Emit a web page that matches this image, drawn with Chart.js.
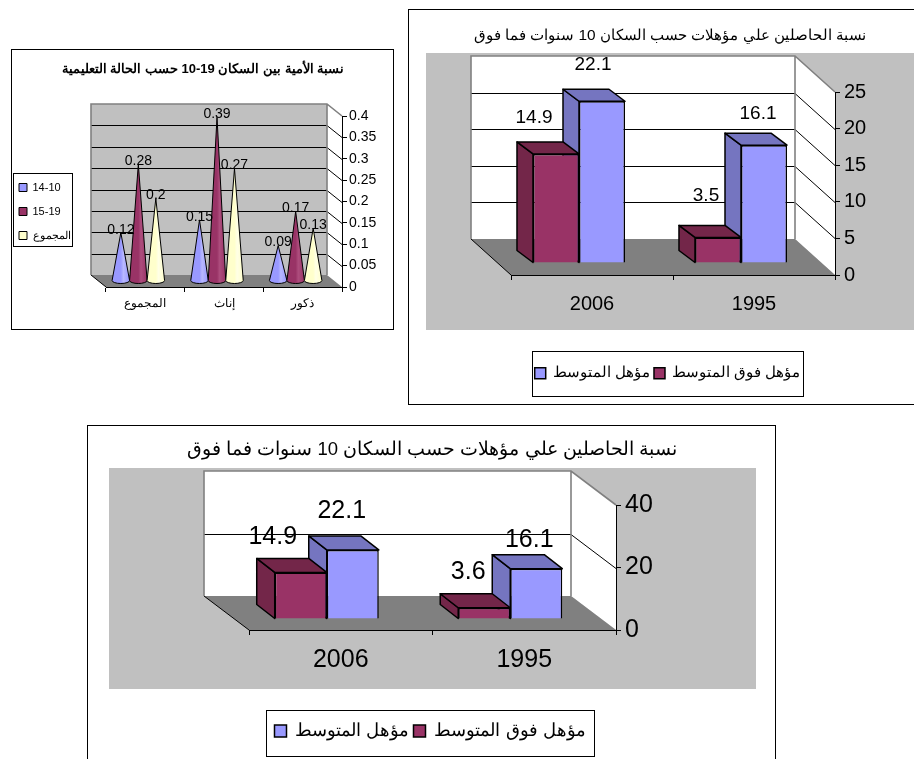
<!DOCTYPE html>
<html lang="ar"><head><meta charset="utf-8">
<style>html,body{margin:0;padding:0;background:#fff;width:914px;height:759px;overflow:hidden}
canvas{position:absolute;left:0;top:0}</style>
<script src="https://cdn.jsdelivr.net/npm/chart.js@4"></script></head>
<body>
<canvas id="c1" width="914" height="759"></canvas>
<canvas id="c2" width="914" height="759"></canvas>
<canvas id="c3" width="914" height="759"></canvas>
<script>
// ---- data ----
const illiteracyTitle = 'نسبة الأمية بين السكان 19-10 حسب الحالة التعليمية';
const illiteracyCategories = ['المجموع', 'إناث', 'ذكور'];
const illiteracySeriesNames = ['14-10', '15-19', 'المجموع'];
const illiteracy1410 = [0.12, 0.15, 0.09];
const illiteracy1519 = [0.28, 0.39, 0.17];
const illiteracyTotal = [0.2, 0.27, 0.13];

const qualTitle = 'نسبة الحاصلين علي مؤهلات حسب السكان 10 سنوات فما فوق';
const qualCategories = ['2006', '1995'];
const qualSeriesNames = ['مؤهل فوق المتوسط', 'مؤهل المتوسط'];
const qualAboveA = [14.9, 3.5];
const qualIntermediateA = [22.1, 16.1];
const qualAboveB = [14.9, 3.6];
const qualIntermediateB = [22.1, 16.1];

const BLUE = '#9999ff', PURPLE = '#993366', CREAM = '#ffffcc';
const BLUE_SIDE = '#7575c0', PURPLE_SIDE = '#732649';
Chart.defaults.font.family = '"Liberation Sans", Arial, sans-serif';
Chart.defaults.color = '#000';
Chart.defaults.animation = false;

function scene(g) {
  return {
    id: 'scene3d',
    beforeLayout(chart) {
      const l = chart.legend;
      if (l && !l.$pinned) {
        const fit = l.fit;
        l.fit = function () { fit.call(this); this.width = 0; this.height = 0; };
        l.$pinned = true;
      }
    },
    afterLayout(chart) {
      const l = chart.legend, b = g.legendBox;
      l.left = b.x + (g.legendDx || 0); l.right = b.x + b.w + (g.legendRight || 0); l.top = b.y + (g.legendDy || 0); l.bottom = b.y + b.h + (g.legendBottom || 0); l.width = l.right - l.left; l.height = l.bottom - l.top;
      const t = chart.titleBlock;
      t.left = g.titleX - 400; t.right = g.titleX + 400; t.width = 800;
    },
    beforeDraw(chart) {
      const c = chart.ctx, f = g.frame, a = chart.chartArea, d = g.depth, y = chart.scales.y;
      c.save();
      c.fillStyle = '#fff'; c.fillRect(f.x, f.y, f.w, f.h);
      c.strokeStyle = '#000'; c.lineWidth = 1; c.strokeRect(f.x + .5, f.y + .5, f.w, f.h);
      if (g.panel) { c.fillStyle = '#c0c0c0'; c.fillRect(g.panel.x, g.panel.y, g.panel.w, g.panel.h); }
      const L = a.left, R = a.right, T = a.top, B = a.bottom, dx = d.dx, dy = d.dy;
      // side wall
      c.fillStyle = '#fff';
      c.beginPath(); c.moveTo(R + dx, T + dy); c.lineTo(R, T); c.lineTo(R, B); c.lineTo(R + dx, B + dy); c.closePath(); c.fill();
      // back wall
      c.fillStyle = g.wall;
      c.fillRect(L + dx, T + dy, R - L, B - T);
      // floor
      c.fillStyle = '#808080';
      c.beginPath(); c.moveTo(L + dx, B + dy); c.lineTo(R + dx, B + dy); c.lineTo(R, B); c.lineTo(L, B); c.closePath(); c.fill();
      // grid lines from the value scale
      c.strokeStyle = '#000'; c.lineWidth = 1;
      y.ticks.forEach(t => {
        const py = Math.round(y.getPixelForValue(t.value));
        if (t.value === y.min || t.value === y.max) return;
        c.beginPath(); c.moveTo(L + dx, py + dy + .5); c.lineTo(R + dx, py + dy + .5); c.lineTo(R, py + .5); c.stroke();
      });
      c.beginPath(); c.moveTo(L + dx, B + dy); c.lineTo(L, B); c.stroke();
      // wall outline
      c.strokeStyle = '#808080'; c.lineWidth = 1.6;
      c.beginPath(); c.moveTo(L + dx, B + dy); c.lineTo(L + dx, T + dy); c.lineTo(R + dx, T + dy); c.lineTo(R, T); c.moveTo(R + dx, T + dy); c.lineTo(R + dx, B + dy); c.stroke();
      // legend frame
      const b = g.legendBox;
      c.fillStyle = '#fff'; c.fillRect(b.x, b.y, b.w, b.h);
      c.strokeStyle = '#000'; c.lineWidth = 1; c.strokeRect(b.x + .5, b.y + .5, b.w, b.h);
      c.restore();
    },
    beforeDatasetsDraw(chart) {
      const c = chart.ctx;
      c.save();
      c.translate(g.bar.dx, g.bar.dy);
      const order = chart.data.datasets.map((_, i) => i);
      if (!g.cone) order.reverse();
      order.forEach(i => {
        const ds = chart.data.datasets[i];
        chart.getDatasetMeta(i).data.forEach(el => g.cone ? drawCone(c, el, ds) : drawBox(c, el, ds, g));
      });
      c.fillStyle = '#000'; c.textAlign = 'center'; c.textBaseline = 'middle';
      c.font = g.labelFont + 'px "Liberation Sans", Arial, sans-serif';
      chart.data.datasets.forEach((ds, i) => {
        chart.getDatasetMeta(i).data.forEach((el, j) => {
          const o = g.labelOffset[i][j];
          c.fillText(String(ds.data[j]), el.x + o[0], el.y + o[1]);
        });
      });
      c.restore();
      return false;
    }
  };
}
function drawBox(c, el, ds, g) {
  const l = el.x - el.width / 2, r = el.x + el.width / 2, t = el.y, b = el.base, dx = g.bar.bx, dy = g.bar.by;
  c.save();
  c.fillStyle = ds.sideColor; c.strokeStyle = '#000'; c.lineWidth = 1.5; c.lineJoin = 'round';
  c.beginPath(); c.moveTo(l, t); c.lineTo(l + dx, t + dy); c.lineTo(l + dx, b + dy); c.lineTo(l, b); c.closePath(); c.fill(); c.stroke();
  c.beginPath(); c.moveTo(l, t); c.lineTo(l + dx, t + dy); c.lineTo(r + dx, t + dy); c.lineTo(r, t); c.closePath(); c.fill(); c.stroke();
  c.restore();
  el.draw(c);
}
function drawCone(c, el, ds) {
  const w = el.width / 2, ry = 3, tip = el.y + 3;
  const g = c.createLinearGradient(el.x - w, 0, el.x + w, 0);
  g.addColorStop(0, ds.backgroundColor); g.addColorStop(.5, ds.backgroundColor); g.addColorStop(.65, ds.coneLight); g.addColorStop(1, ds.backgroundColor);
  c.save();
  c.fillStyle = g; c.strokeStyle = '#000'; c.lineWidth = 1;
  c.beginPath(); c.moveTo(el.x, tip); c.lineTo(el.x + w, el.base); c.ellipse(el.x, el.base, w, ry, 0, 0, Math.PI); c.closePath(); c.fill(); c.stroke();
  c.restore();
}
function makeChart(id, labels, datasets, title, g, opt) {
  const ptop = g.titleY - .6 * opt.titleSize;
  return new Chart(document.getElementById(id), {
    type: 'bar',
    data: { labels, datasets },
    plugins: [scene(g)],
    options: {
      responsive: false, animation: false,
      layout: { padding: { left: g.area.left, right: 0, top: 0, bottom: 0 } },
      plugins: {
        tooltip: { enabled: false },
        title: { display: true, text: title, color: '#000',
          font: { size: opt.titleSize, weight: opt.titleWeight },
          padding: { top: ptop, bottom: g.area.top - ptop - 1.2 * opt.titleSize } },
        legend: { display: true, position: opt.legendPos, reverse: !!opt.legendReverse,
          labels: { boxWidth: g.legendSwatch, boxHeight: g.legendSwatch, padding: g.legendPad, color: '#000', font: { size: opt.legendSize } } }
      },
      scales: {
        x: { afterFit(s) { s.height = 759 - g.area.bottom; },
          border: { color: '#000', display: true },
          grid: { drawOnChartArea: false, color: '#000', tickLength: 5, drawTicks: true },
          ticks: { color: '#000', autoSkip: false, maxRotation: 0, minRotation: 0, padding: opt.xPad, font: { size: opt.xSize } } },
        y: { position: 'right', min: 0, max: opt.max, afterFit(s) { s.width = 914 - g.area.right; },
          border: { color: '#000', display: true },
          grid: { drawOnChartArea: false, color: '#000', tickLength: 5 },
          ticks: { color: '#000', stepSize: opt.step, autoSkip: false, padding: opt.yPad, font: { size: opt.ySize },
            callback: v => String(+v.toFixed(2)) } }
      }
    }
  });
}
function boxSet(name, data, color, side, pct) {
  return { label: name, data, backgroundColor: color, borderColor: '#000', borderWidth: 1.5, sideColor: side, barPercentage: 1, categoryPercentage: pct };
}
function coneSet(name, data, color, light) {
  return { label: name, data, backgroundColor: color, coneLight: light, borderColor: '#000', borderWidth: 1, barPercentage: 1, categoryPercentage: .667 };
}
// ---- chart 1 ----
makeChart('c1', illiteracyCategories, [
  coneSet(illiteracySeriesNames[0], illiteracy1410, BLUE, '#b8b8ff'),
  coneSet(illiteracySeriesNames[1], illiteracy1519, PURPLE, '#ad4d7d'),
  coneSet(illiteracySeriesNames[2], illiteracyTotal, CREAM, '#ffffe6')
], illiteracyTitle, {
  frame: { x: 11, y: 49, w: 382, h: 280 }, wall: '#c0c0c0', titleX: 203, titleY: 69,
  area: { left: 106, right: 342, top: 116, bottom: 287 }, depth: { dx: -15, dy: -12 },
  bar: { dx: -7, dy: -6 }, cone: true, labelFont: 14,
  legendBox: { x: 13, y: 173, w: 59, h: 73 }, legendDx: -7, legendDy: -20, legendBottom: 24, legendSwatch: 8, legendPad: 13,
  labelOffset: [[0, 0], [0, 0], [0, 0]].map(() => [[0, 0], [0, 0], [0, 0]])
}, { titleSize: 13, titleWeight: 'bold', legendPos: 'left', legendSize: 11, xPad: 4, xSize: 12, yPad: 2, ySize: 14, max: .4, step: .05 });
// ---- chart 2 ----
makeChart('c2', qualCategories, [
  boxSet(qualSeriesNames[0], qualAboveA, PURPLE, PURPLE_SIDE, .568),
  boxSet(qualSeriesNames[1], qualIntermediateA, BLUE, BLUE_SIDE, .568)
], qualTitle, {
  frame: { x: 408, y: 9, w: 520, h: 395 }, panel: { x: 426, y: 53, w: 488, h: 277 }, wall: '#fff', titleX: 670, titleY: 36,
  area: { left: 511, right: 835, top: 92, bottom: 275 }, depth: { dx: -40, dy: -36 },
  bar: { dx: -13, dy: -12, bx: -16, by: -12 }, labelFont: 19,
  legendBox: { x: 532, y: 351, w: 271, h: 45 }, legendDx: -30, legendRight: 30, legendDy: 11, legendSwatch: 11, legendPad: 4,
  labelOffset: [[[-22, -36], [-12, -42]], [[-9, -36], [-6, -31]]]
}, { titleSize: 15.4, titleWeight: 'normal', legendPos: 'bottom', legendReverse: true, legendSize: 14.5, xPad: 12, xSize: 20, yPad: 4, ySize: 20, max: 25, step: 5 });
// ---- chart 3 ----
makeChart('c3', qualCategories, [
  boxSet(qualSeriesNames[0], qualAboveB, PURPLE, PURPLE_SIDE, .567),
  boxSet(qualSeriesNames[1], qualIntermediateB, BLUE, BLUE_SIDE, .567)
], qualTitle, {
  frame: { x: 87, y: 425, w: 688, h: 350 }, panel: { x: 109, y: 468, w: 647, h: 221 }, wall: '#fff', titleX: 432, titleY: 450,
  area: { left: 249, right: 616, top: 505, bottom: 630 }, depth: { dx: -45, dy: -34 },
  bar: { dx: -14, dy: -11, bx: -18, by: -14 }, labelFont: 25,
  legendBox: { x: 266, y: 710, w: 328, h: 46 }, legendDy: 8, legendSwatch: 12, legendPad: 4,
  labelOffset: [[[-28, -35], [-16, -36]], [[-11, -39], [-7, -29]]]
}, { titleSize: 18.5, titleWeight: 'normal', legendPos: 'bottom', legendReverse: true, legendSize: 18, xPad: 10, xSize: 25, yPad: 4, ySize: 25, max: 40, step: 20 });
</script>
</body></html>
